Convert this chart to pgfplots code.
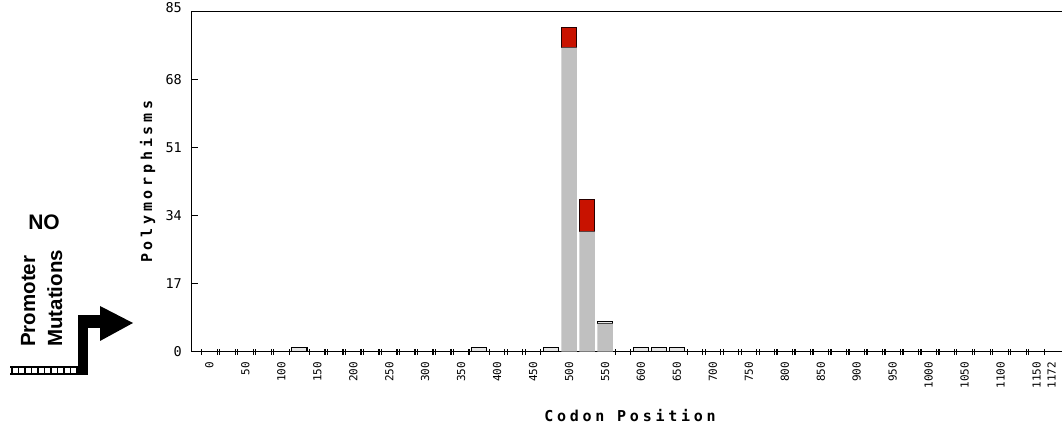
\documentclass[border=0pt]{standalone}
\usepackage{pgfplots}
\pgfplotsset{compat=1.18}
\usepackage{pgfplotstable}
\usepackage{fontspec}
\setmainfont{DejaVu Sans Mono}
\newfontfamily\labfont{DejaVu Sans Mono}[LetterSpace=25]
\newfontfamily\arialfont{Liberation Sans}
\definecolor{bargrey}{RGB}{192,192,192}
\definecolor{barred}{RGB}{200,18,0}

% bin = 25-codon bin index (bin k covers codons 25k .. 25k+24)
\pgfplotstableread{
bin grey box red
5   0   1   0
15  0   1   0
19  0   1   0
20  76  0   5
21  30  0   8
22  7   0.5 0
24  0   1   0
25  0   1   0
26  0   1   0
}\polytable

\begin{document}
\begin{tikzpicture}
\path[use as bounding box] (0pt,0pt) rectangle (1062pt,427pt);

% promoter decoration
\node[font=\arialfont\bfseries\fontsize{21}{21}\selectfont, inner sep=0pt] at (44pt,204.5pt) {NO};
\node[rotate=90, anchor=base west, inner sep=0pt, font=\arialfont\bfseries\fontsize{20.5}{20.5}\selectfont] at (35pt,80pt) {Promoter};
\node[rotate=90, anchor=base west, inner sep=0pt, font=\arialfont\bfseries\fontsize{20.5}{20.5}\selectfont] at (62pt,80pt) {Mutations};
\draw[line width=1.2pt] (10pt,60pt) -- (80pt,60pt);
\draw[line width=1.2pt] (10pt,53pt) -- (80pt,53pt);
\foreach \xx in {12,18.5,25,31.5,38,44.5,51,57.5,64,70.5,77}
  \draw[line width=1.2pt] (\xx pt,53pt) -- (\xx pt,60pt);
\fill[black] (78pt,52pt) rectangle (88pt,112pt);
\fill[black] (78pt,99pt) rectangle (101pt,112pt);
\fill[black] (100pt,121pt) -- (133pt,104pt) -- (100pt,86pt) -- cycle;

\begin{axis}[
  at={(191.7pt,75.3pt)}, anchor=south west,
  scale only axis, width=883.3pt, height=340pt,
  xmin=-0.528, xmax=48.6, ymin=0, ymax=85,
  ybar stacked, bar width=0.86,
  axis line style={line width=1.3pt},
  every tick/.style={line width=1.2pt, black},
  tick align=inside,
  xtick pos=bottom, ytick pos=left,
  major tick length=6pt,
  xtick={0.46,2.46,4.46,6.46,8.46,10.46,12.46,14.46,16.46,18.46,20.46,22.46,24.46,26.46,28.46,30.46,32.46,34.46,36.46,38.46,40.46,42.46,44.46,46.46,47.3},
  xticklabels={0,50,100,150,200,250,300,350,400,450,500,550,600,650,700,750,800,850,900,950,1000,1050,1100,1150,1172},
  major x tick style={draw=none},
  minor xtick={0.03,0.89,1.03,1.89,2.03,2.89,3.03,3.89,4.03,4.89,
    6.03,6.89,7.03,7.89,8.03,8.89,9.03,9.89,10.03,10.89,11.03,11.89,12.03,12.89,13.03,13.89,14.03,14.89,
    16.03,16.89,17.03,17.89,18.03,18.89,
    23.03,23.89,
    27.03,27.89,28.03,28.89,29.03,29.89,30.03,30.89,31.03,31.89,32.03,32.89,33.03,33.89,34.03,34.89,
    35.03,35.89,36.03,36.89,37.03,37.89,38.03,38.89,39.03,39.89,40.03,40.89,41.03,41.89,42.03,42.89,
    43.03,43.89,44.03,44.89,45.03,45.89,46.03,46.89},
  minor tick length=6pt,
  minor x tick style={line width=1.2pt, black, yshift=-3pt},
  xticklabel style={font=\fontsize{11}{11}\selectfont, rotate=90, anchor=east, inner sep=0pt, xshift=-10pt},
  ytick={0,17,34,51,68},
  yticklabels={0,17,34,51,68},
  extra y ticks={85},
  extra y tick labels={85},
  extra y tick style={yticklabel style={yshift=4.5pt}},
  yticklabel style={font=\fontsize{13.5}{13.5}\selectfont, anchor=east, inner sep=0pt, xshift=-9.7pt},
  ylabel={Polymorphisms},
  ylabel style={at={(axis description cs:-0.05004,0.5)}, anchor=center, font=\labfont\bfseries\fontsize{15}{15}\selectfont},
  xlabel={Codon Position},
  xlabel style={at={(axis description cs:0.4962,-0.1891)}, anchor=center, font=\labfont\bfseries\fontsize{15}{15}\selectfont},
]
\addplot[fill=bargrey, draw=none] table[x expr=\thisrow{bin}+0.46, y=grey] {\polytable};
\addplot[fill=bargrey!40, draw=black, line width=1.2pt] table[x expr=\thisrow{bin}+0.46, y=box] {\polytable};
\addplot[fill=barred, draw=black!85!red, line width=1.3pt] table[x expr=\thisrow{bin}+0.46, y=red] {\polytable};
\end{axis}
\end{tikzpicture}
\end{document}
